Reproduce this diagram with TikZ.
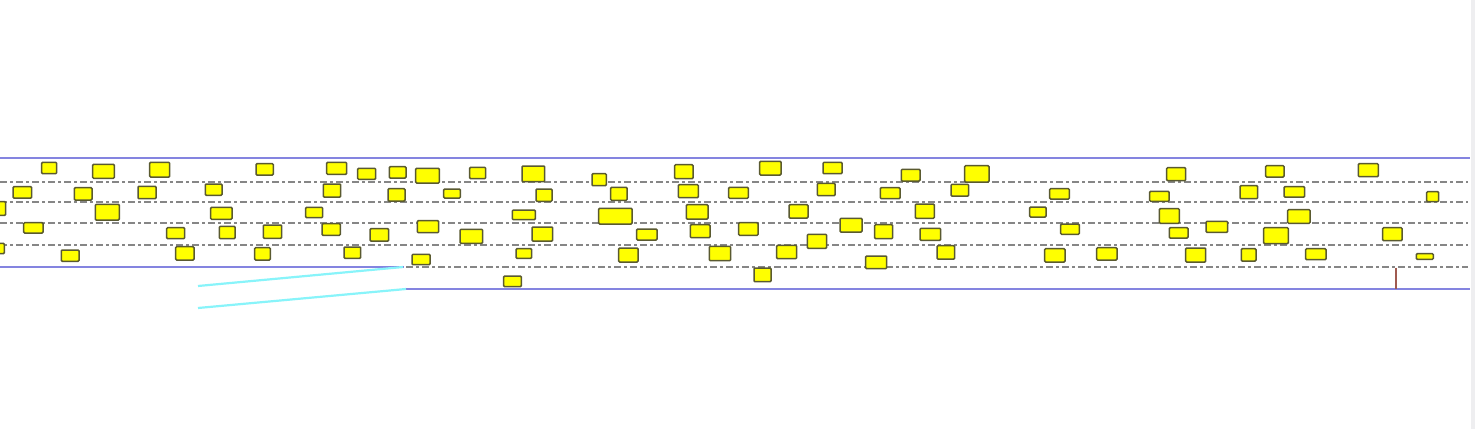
\documentclass[tikz,border=0pt]{standalone}
\begin{document}
\definecolor{roadblue}{HTML}{8484E0}
\definecolor{lanegray}{HTML}{868686}
\definecolor{carfill}{HTML}{FFFF00}
\definecolor{carline}{HTML}{5A5A30}
\definecolor{ramp}{HTML}{88F4FA}
\definecolor{stopbar}{HTML}{A05A50}
\definecolor{edgegray}{HTML}{EEEEF0}
\begin{tikzpicture}[x=1pt,y=-1pt,
  edge/.style={draw=roadblue,line width=1.7pt},
  lane/.style={draw=lanegray,line width=1.8pt,dash pattern=on 6.5pt off 3.5pt on 2.5pt off 3.5pt},
  car/.style={draw=carline,fill=carfill,line width=1.5pt,rounded corners=1pt},
  rampline/.style={draw=ramp,line width=2.2pt},
  bar/.style={draw=stopbar,line width=1.5pt}]
\useasboundingbox (0,0) rectangle (1475,429);
\fill[white] (0,0) rectangle (1475,429);
\fill[edgegray] (1471,0) rectangle (1475,429);
% road edges
\draw[edge] (0,158) -- (1470,158);
\draw[edge] (0,267) -- (404,267);
\draw[edge] (406,289) -- (1470,289);
% lane markings
\foreach \y in {182,202,223,245}{
  \draw[lane] (0,\y) -- (1468,\y);
}
\draw[lane] (406,267) -- (1468,267);
% on-ramp lines
\draw[rampline] (198,286) -- (403,267);
\draw[rampline] (198,308) -- (406,289);
% stop bar
\draw[bar] (1396,267.5) -- (1396,289);
% vehicles
\foreach \a/\b/\c/\d in {
 41.7/162.3/56.7/173.7, 92.7/164.3/114.3/178.3, 149.7/162.3/169.7/177,
 256/163.7/273.3/175, 326.7/162.3/346.7/174.3, 357.7/168.3/375.7/179.3,
 13/186.7/31.7/198, 74.3/187.7/92/200, 138/186.3/156/198.7,
 205.3/184/222/195.3, 323.3/184/340.7/197,
 -8/201.7/5.7/215.3, 95.3/204.3/119.3/220, 210.7/207.3/232/219.3, 305.7/207.3/322.7/217.7,
 23.7/222.7/43/233, 166.7/227.7/184.7/238.7, 219.3/226.3/235/238.7,
 263.3/225/281.7/238.3, 322/223.7/340.3/235.3,
 -8/243.3/4.3/253.7, 61.3/250/79/261.3, 175.7/246.7/194/260,
 254.7/247.7/270.3/260, 344/247/360.7/258.3,
 389.3/166.7/406/178, 415.7/168.3/439.3/183, 469.7/167.3/485.7/178.7,
 522/166/544.7/181.7, 592/173.7/606.3/185.7, 674.7/164.7/693/178.7,
 388/188.7/405/201, 443.7/189/460.3/198, 536/189/552/201.3,
 610.7/187.3/627/200.3, 678.3/184.7/698.3/197.7, 728.7/187.3/748.3/198.3,
 512.3/210/535.3/219.7, 598.7/208.3/632/224, 686.3/204.7/708/219,
 738.7/222.7/758/235.3,
 370/228.7/388.7/241, 417.3/220.7/438.7/232.7, 460/229.3/482.7/243.3,
 532/227/552.7/241, 636.7/229/657/240, 690.3/224.7/710/237.7,
 412/254.3/430/264.7, 516/248.7/531.7/258.3, 618.7/248/638/262,
 709.3/246.3/730.7/260.7, 503.7/276/521.3/286.7,
 759.7/161.3/781/175, 823/162.3/842/173.7, 901.3/169.3/920/181, 964.7/165.7/989/182,
 817.3/183.3/835/195.7, 880.3/187.7/900/198.7, 951/184.3/968.7/196, 1049.7/188.7/1069.3/199,
 789/204.7/808/218, 915.3/204/934.3/218.3, 1029.7/207/1046/217,
 840/218.3/862/232, 874.7/224.7/892.7/238.7, 920/228.3/940.7/240.3, 1060.7/224/1079.3/234.3,
 776.7/245.3/796.7/258.7, 807.3/234.3/826.7/248.3, 937/245.7/954.7/259,
 1044.7/248.7/1065/262, 1096.7/247.7/1117/260,
 754/268/771/281.7, 865.7/256/886.7/268.7,
 1166.7/167.7/1185.7/180.7, 1265.7/165.7/1284/177, 1358.3/163.7/1378.3/176.7,
 1149.7/191.3/1169/201.3, 1240/185.7/1257.7/198.7, 1284/186.7/1304.7/197, 1426.7/191.7/1438.7/201.7,
 1159.3/208.7/1179.3/223.3, 1287.7/209.7/1310/223.3,
 1169.3/227.7/1188/238, 1206/221.3/1227.7/232.3, 1263.7/227.7/1288.3/243.7, 1382.7/227.7/1402/240.7,
 1185.7/248/1205.7/262, 1241.3/248.7/1256/261, 1305.7/248.7/1326/259.7, 1416.3/253.7/1433.3/259.3}{
  \draw[car] (\a,\b) rectangle (\c,\d);
}
\end{tikzpicture}
\end{document}
